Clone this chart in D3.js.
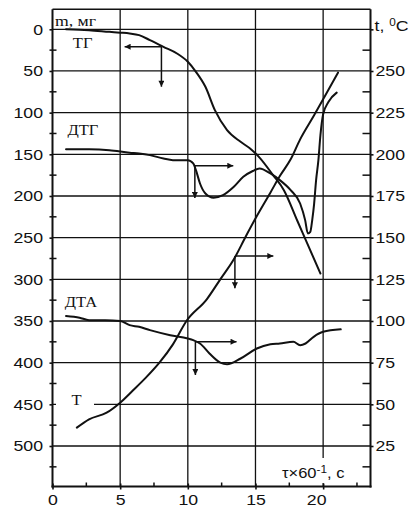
<!DOCTYPE html>
<html>
<head>
<meta charset="utf-8">
<script src="https://cdn.jsdelivr.net/npm/d3@7"></script>
<style>
  html, body { margin: 0; padding: 0; background: #fff; }
  svg { display: block; }
</style>
</head>
<body>
<script>
// ---- Thermal analysis curves: time τ×60⁻¹ (min) ----
// ТГ — mass curve, left scale (мг)
const tgTime  = [1.0, 2.7, 4.2, 5.0, 5.7, 6.4, 7.2, 8.2, 9.2, 10.0, 10.6, 11.3, 12.0, 12.9, 13.9, 14.6, 15.3, 16.3, 17.1, 18.1, 18.8, 19.8];
const tgValue = [0, 1, 3, 4, 5, 7, 13, 21, 29, 39, 51, 69, 97, 121, 135, 143, 154, 175, 193, 230, 256, 293];

// ДТГ — derivative of mass, plotted on the left scale
const dtgTime  = [1.0, 2.7, 4.2, 5.7, 6.4, 7.2, 8.2, 8.9, 10.0, 10.4, 10.6, 10.9, 11.3, 11.9, 12.6, 13.4, 14.1, 14.8, 15.3, 16.1, 16.8, 17.6, 18.3, 18.67, 18.87, 19.05, 19.2, 19.33, 19.48, 19.65, 19.8, 20.0, 20.4, 21.0];
const dtgValue = [144, 144, 145, 148, 149, 151, 155, 157, 157, 161, 169, 185, 197, 202, 199, 189, 177, 170, 167, 173, 181, 193, 209, 229, 245, 243, 228, 210, 181, 157, 127, 102, 87, 76];

// ДТА — differential thermal curve, plotted on the left scale
const dtaTime  = [1.0, 2.0, 2.7, 3.9, 5.0, 5.7, 6.4, 7.2, 8.7, 10.0, 10.4, 10.9, 11.6, 12.4, 12.9, 13.9, 15.1, 16.1, 16.8, 17.8, 18.3, 18.7, 19.3, 20.0, 21.3];
const dtaValue = [344, 346, 349, 349, 350, 355, 357, 361, 367, 371, 373, 377, 389, 400, 402, 395, 383, 378, 377, 375, 379, 377, 369, 363, 360];

// Т — sample temperature, right scale (°C)
const tTime = [1.8, 2.7, 4.0, 5.0, 5.9, 6.9, 7.9, 8.9, 9.9, 11.4, 12.4, 13.4, 14.3, 15.1, 16.1, 16.8, 17.6, 18.3, 19.3, 20.0, 21.1];
const tTemp = [36, 41, 45, 51, 58, 66, 75, 86, 100, 113, 125, 137, 151, 163, 177, 187, 197, 209, 223, 233, 249];

// Tick values
const timeTicks = [0, 5, 10, 15, 20];
const timeMinor = [2.5, 7.5, 12.5, 17.5, 22.5];
const massTicks = [0, 50, 100, 150, 200, 250, 300, 350, 400, 450, 500];
const massMinor = [25, 75, 125, 175, 225, 275, 325, 375, 425, 475, 525];
const tempTicks = [25, 50, 75, 100, 125, 150, 175, 200, 225, 250, 275];
const tempLabels = [25, 50, 75, 100, 125, 150, 175, 200, 225, 250];
const tempMinor = [12.5, 37.5, 62.5, 87.5, 112.5, 137.5, 162.5, 187.5, 212.5, 237.5, 262.5];

// Axis pointers: corner (time, mass) with horizontal and vertical arrow tips
const pointerTime  = [8.05, 10.52, 13.48, 10.56];
const pointerMass  = [20.9, 163.7, 272.0, 374.8];
const pointerHTip  = [5.33, 13.36, 16.32, 13.6];
const pointerVTip  = [68.9, 202.4, 310.8, 414.8];

// ---- Layout ----
const W = 414, H = 515;
const frame = { left: 52.5, right: 370.5, top: 9.3, bottom: 486.5 };
const ink = "#111";
const sansFont = "'Liberation Sans', Arial, sans-serif";
const serifFont = "'Liberation Serif', 'Times New Roman', serif";
const stretch = 1.18;

const x = d3.scaleLinear().domain([0, 23.5]).range([frame.left, frame.right]);
const yMass = d3.scaleLinear().domain([0, 500]).range([29.3, 446]);
const yTemp = d3.scaleLinear().domain([25, 250]).range([446, 71]);

const svg = d3.select("body").append("svg")
  .attr("width", W).attr("height", H)
  .attr("viewBox", `0 0 ${W} ${H}`);

// Grid
const grid = svg.append("g").attr("stroke", ink).attr("stroke-width", 1.3);
grid.selectAll("line.v").data(timeTicks.filter(d => d > 0)).join("line")
  .attr("class", "v")
  .attr("x1", d => x(d)).attr("x2", d => x(d))
  .attr("y1", frame.top).attr("y2", frame.bottom);
grid.selectAll("line.h").data(massTicks).join("line")
  .attr("class", "h")
  .attr("x1", frame.left).attr("x2", frame.right)
  .attr("y1", d => yMass(d)).attr("y2", d => yMass(d));

// Labels that sit over the grid get a white backing
function backing(x0, y0, w, h) {
  svg.append("rect").attr("x", x0).attr("y", y0).attr("width", w).attr("height", h).attr("fill", "#fff");
}
backing(56, 393, 38, 20);
backing(280, 458, 76, 25);

// Axes (major ticks with labels through d3-axis)
function styleAxis(g, dx, anchor) {
  g.select(".domain").remove();
  g.selectAll(".tick line").attr("stroke", ink).attr("stroke-width", 1.6);
  g.selectAll(".tick text")
    .attr("fill", ink)
    .style("font-family", sansFont)
    .style("font-size", "15px")
    .attr("text-anchor", anchor)
    .each(function () {
      const t = d3.select(this);
      const tx = +t.attr("x") || 0, ty = +t.attr("y") || 0;
      t.attr("x", 0).attr("y", 0)
       .attr("transform", `translate(${tx + dx},${ty}) scale(${stretch},1)`);
    });
}

const leftAxis = svg.append("g")
  .attr("transform", `translate(${frame.left},0)`)
  .call(d3.axisLeft(yMass).tickValues(massTicks).tickSize(3).tickPadding(6.5).tickSizeOuter(0));
styleAxis(leftAxis, 0, "end");

const rightAxis = svg.append("g")
  .attr("transform", `translate(${frame.right},0)`)
  .call(d3.axisRight(yTemp).tickValues(tempTicks).tickSize(3).tickPadding(2)
        .tickFormat(d => tempLabels.includes(d) ? d : "").tickSizeOuter(0));
styleAxis(rightAxis, 0, "start");

const bottomAxis = svg.append("g")
  .attr("transform", `translate(0,${frame.bottom})`)
  .call(d3.axisBottom(x).tickValues(timeTicks).tickSize(3).tickPadding(4.5).tickSizeOuter(0));
styleAxis(bottomAxis, 0, "middle");
bottomAxis.selectAll(".tick text")
  .filter(d => d === 20)
  .attr("transform", function () {
    return d3.select(this).attr("transform").replace(/translate\(([-\d.]+),/, (m, v) => `translate(${+v - 7},`);
  });
bottomAxis.selectAll(".tick line").attr("y1", -3);

// Minor ticks
const minor = svg.append("g").attr("stroke", ink).attr("stroke-width", 1.5);
minor.selectAll("line.ml").data(massMinor).join("line").attr("class", "ml")
  .attr("x1", frame.left - 3).attr("x2", frame.left + 4)
  .attr("y1", d => yMass(d)).attr("y2", d => yMass(d));
minor.selectAll("line.mr").data(tempMinor).join("line").attr("class", "mr")
  .attr("x1", frame.right - 8).attr("x2", frame.right)
  .attr("y1", d => yTemp(d)).attr("y2", d => yTemp(d));
minor.selectAll("line.mb").data(timeMinor).join("line").attr("class", "mb")
  .attr("x1", d => x(d)).attr("x2", d => x(d))
  .attr("y1", frame.bottom - 4).attr("y2", frame.bottom);

// Frame
const frameG = svg.append("g").attr("stroke", ink).attr("stroke-width", 2).attr("fill", "none");
frameG.append("line").attr("x1", frame.left).attr("x2", frame.left).attr("y1", frame.top).attr("y2", frame.bottom + 1);
frameG.append("line").attr("x1", frame.right).attr("x2", frame.right).attr("y1", frame.top).attr("y2", frame.bottom + 1);
frameG.append("line").attr("x1", frame.left - 1).attr("x2", frame.right + 1).attr("y1", frame.bottom).attr("y2", frame.bottom);
frameG.append("line").attr("x1", frame.left).attr("x2", frame.right).attr("y1", frame.top).attr("y2", frame.top).attr("stroke-width", 1.5);

// Curves
const curves = svg.append("g").attr("fill", "none").attr("stroke", ink).attr("stroke-width", 2)
  .attr("stroke-linejoin", "round").attr("stroke-linecap", "round");
function massLine(ts, vs) {
  return d3.line().x(i => x(ts[i])).y(i => yMass(vs[i])).curve(d3.curveMonotoneX)(d3.range(ts.length));
}
curves.append("path").attr("d", massLine(tgTime, tgValue));
curves.append("path").attr("d", massLine(dtgTime, dtgValue));
curves.append("path").attr("d", massLine(dtaTime, dtaValue));
curves.append("path").attr("d",
  d3.line().x(i => x(tTime[i])).y(i => yTemp(tTemp[i])).curve(d3.curveMonotoneX)(d3.range(tTime.length)));

// Pointer arrows
const defs = svg.append("defs");
defs.append("marker").attr("id", "head")
  .attr("viewBox", "0 0 10 10").attr("refX", 10).attr("refY", 5)
  .attr("markerWidth", 10).attr("markerHeight", 6).attr("markerUnits", "userSpaceOnUse")
  .attr("orient", "auto")
  .append("path").attr("d", "M0,0 L10,5 L0,10 Z").attr("fill", ink);

const pointers = svg.append("g").attr("stroke", ink).attr("stroke-width", 1.5);
pointerTime.forEach((t, i) => {
  pointers.append("line")
    .attr("x1", x(t)).attr("y1", yMass(pointerMass[i]))
    .attr("x2", x(pointerHTip[i])).attr("y2", yMass(pointerMass[i]))
    .attr("marker-end", "url(#head)");
  pointers.append("line")
    .attr("x1", x(t)).attr("y1", yMass(pointerMass[i]))
    .attr("x2", x(t)).attr("y2", yMass(pointerVTip[i]))
    .attr("marker-end", "url(#head)");
});

// Text labels
function label(px, py, font, size, content) {
  const t = svg.append("text")
    .attr("transform", `translate(${px},${py}) scale(${stretch},1)`)
    .attr("fill", ink)
    .style("font-family", font)
    .style("font-size", size + "px");
  content(t);
  return t;
}

// Curve names
label(x(1.5), yMass(22.5), serifFont, 14, t => t.text("ТГ"));
label(x(1.1), yMass(127), serifFont, 14, t => t.text("ДТГ"));
label(x(0.9), yMass(333), serifFont, 14, t => t.text("ДТА"));
label(x(1.4), yMass(451), serifFont, 14, t => t.text("Т"));

// Axis titles
label(55, 25.5, serifFont, 15, t => t.text("m, мг"));
label(374.5, 31, sansFont, 15, t => {
  t.append("tspan").text("t, ");
  t.append("tspan").attr("dy", -5).style("font-size", "10px").text("0");
  t.append("tspan").attr("dy", 5).text("C");
});
label(282, 478, sansFont, 14, t => {
  t.append("tspan").text("τ×60");
  t.append("tspan").attr("dy", -5).style("font-size", "10px").text("-1");
  t.append("tspan").attr("dy", 5).text(", с");
});
</script>
</body>
</html>
